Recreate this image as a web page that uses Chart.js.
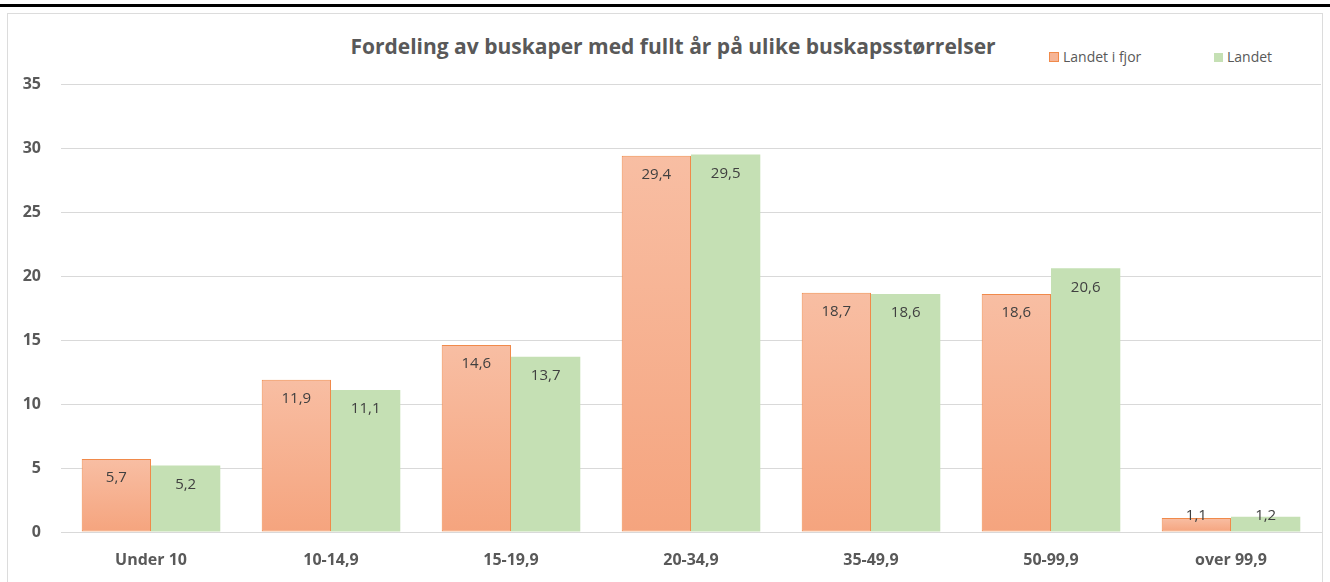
<!DOCTYPE html>
<html>
<head>
<meta charset="utf-8">
<script src="https://cdn.jsdelivr.net/npm/chart.js@4.4.1/dist/chart.umd.min.js"></script>
<style>
  html, body { margin: 0; padding: 0; background: #fff; }
  body { width: 1330px; height: 582px; position: relative; overflow: hidden; font-family: "Open Sans", sans-serif; }
  .topline { position: absolute; left: 0; top: 4px; width: 1330px; height: 3px; background: #000; }
  .box { position: absolute; left: 7px; top: 13px; width: 1316px; height: 580px; border: 1px solid #dcdcdc; box-sizing: border-box; }
  .title { position: absolute; left: 0; width: 1346px; top: 32px; text-align: center; font-weight: bold; font-size: 21px; line-height: 28px; color: #595959; }
  .legend { position: absolute; top: 47px; font-size: 14px; line-height: 19px; color: #595959; }
  .legend span.sw { display: inline-block; width: 9px; height: 9px; margin-right: 4px; vertical-align: 0px; }
  #wrap { position: absolute; left: 0; top: 0; width: 1330px; height: 582px; }
</style>
</head>
<body>
<div class="topline"></div>
<div class="box"></div>
<div class="title">Fordeling av buskaper med fullt år på ulike buskapsstørrelser</div>
<div class="legend" style="left:1049px"><span class="sw" style="background:#f6b596;border:1px solid #f08a4b;width:8px;height:8px"></span>Landet i fjor</div>
<div class="legend" style="left:1214px"><span class="sw" style="background:#c5e0b4"></span>Landet</div>
<div id="wrap"><canvas id="chart" width="1330" height="582"></canvas></div>
<script>
const categories = ['Under 10', '10-14,9', '15-19,9', '20-34,9', '35-49,9', '50-99,9', 'over 99,9'];
const lastYear = [5.7, 11.9, 14.6, 29.4, 18.7, 18.6, 1.1];
const current = [5.2, 11.1, 13.7, 29.5, 18.6, 20.6, 1.2];
const seriesNames = ['Landet i fjor', 'Landet'];

const fmt = v => v.toFixed(1).replace('.', ',');

function orangeFill(context) {
    const chart = context.chart;
    const y = chart.scales.y;
    if (!chart.chartArea || !y || context.raw === undefined) return '#f6b08e';
    const top = y.getPixelForValue(context.raw);
    const base = y.getPixelForValue(0);
    if (!isFinite(top) || base - top < 1) return '#f6b08e';
    const g = chart.ctx.createLinearGradient(0, top, 0, base);
    g.addColorStop(0, '#f8bea3');
    g.addColorStop(1, '#f5a47e');
    return g;
}

const labelPlugin = {
    id: 'barLabels',
    afterDatasetsDraw(chart) {
        const ctx = chart.ctx;
        const base = chart.scales.y.getPixelForValue(0);
        ctx.save();
        ctx.font = '15px "Open Sans", sans-serif';
        ctx.fillStyle = '#404040';
        ctx.textAlign = 'center';
        ctx.textBaseline = 'middle';
        chart.data.datasets.forEach((ds, i) => {
            chart.getDatasetMeta(i).data.forEach((bar, j) => {
                const yy = Math.min(bar.y + 19, base - 16);
                ctx.fillText(fmt(ds.data[j]), bar.x, yy);
            });
        });
        ctx.restore();
    }
};

new Chart(document.getElementById('chart'), {
    type: 'bar',
    data: {
        labels: categories,
        datasets: [
            {
                label: seriesNames[0],
                data: lastYear,
                backgroundColor: orangeFill,
                borderColor: '#f08a4b',
                borderWidth: 1,
                borderSkipped: false,
                barPercentage: 1,
                categoryPercentage: 0.77
            },
            {
                label: seriesNames[1],
                data: current,
                backgroundColor: '#c5e0b4',
                borderWidth: 0,
                barPercentage: 1,
                categoryPercentage: 0.77
            }
        ]
    },
    options: {
        responsive: false,
        animation: false,
        layout: { padding: { top: 84, right: 9, left: 0, bottom: 0 } },
        plugins: {
            legend: { display: false },
            title: { display: false },
            tooltip: { enabled: false }
        },
        scales: {
            x: {
                grid: { display: false },
                border: { display: true, color: '#d9d9d9', width: 1 },
                ticks: {
                    color: '#595959',
                    font: { family: '"Open Sans", sans-serif', size: 16, weight: 'bold' },
                    padding: 11,
                    maxRotation: 0
                },
                afterFit(scale) { scale.height = 50; }
            },
            y: {
                min: 0,
                max: 35,
                ticks: {
                    stepSize: 5,
                    color: '#595959',
                    font: { family: '"Open Sans", sans-serif', size: 16, weight: 'bold' },
                    padding: 20
                },
                grid: { color: '#d9d9d9', drawTicks: false },
                border: { display: false },
                afterFit(scale) { scale.width = 61; }
            }
        }
    },
    plugins: [labelPlugin]
});
</script>
</body>
</html>
